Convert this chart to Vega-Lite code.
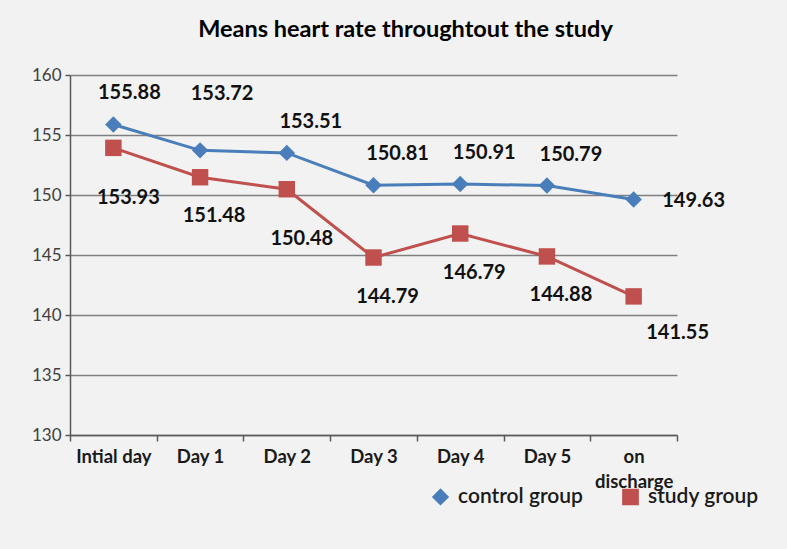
{
  "$schema": "https://vega.github.io/schema/vega-lite/v6.json",
  "autosize": "none",
  "width": 607,
  "height": 360,
  "padding": {"left": 70, "top": 75, "right": 110, "bottom": 114},
  "background": "#f2f2f2",
  "config": {"view": {"stroke": null}, "font": "Lato"},
  "title": {"text": "Means heart rate throughtout the study", "fontSize": 23.5, "fontWeight": "bold", "color": "#000000", "anchor": "middle", "dx": 32, "offset": 25, "font": "Lato"},
  "data": {"values": [
    {"day": "Intial day", "group": "control group", "value": 155.88},
    {"day": "Day 1", "group": "control group", "value": 153.72},
    {"day": "Day 2", "group": "control group", "value": 153.51},
    {"day": "Day 3", "group": "control group", "value": 150.81},
    {"day": "Day 4", "group": "control group", "value": 150.91},
    {"day": "Day 5", "group": "control group", "value": 150.79},
    {"day": "on discharge", "group": "control group", "value": 149.63},
    {"day": "Intial day", "group": "study group", "value": 153.93},
    {"day": "Day 1", "group": "study group", "value": 151.48},
    {"day": "Day 2", "group": "study group", "value": 150.48},
    {"day": "Day 3", "group": "study group", "value": 144.79},
    {"day": "Day 4", "group": "study group", "value": 146.79},
    {"day": "Day 5", "group": "study group", "value": 144.88},
    {"day": "on discharge", "group": "study group", "value": 141.55}
  ]},
  "encoding": {
    "x": {"field": "day", "type": "nominal", "sort": ["Intial day", "Day 1", "Day 2", "Day 3", "Day 4", "Day 5", "on discharge"],
      "scale": {"type": "band", "paddingInner": 0, "paddingOuter": 0},
      "axis": {"title": null, "labelAngle": 0, "tickBand": "extent", "domainColor": "#595959", "domainWidth": 1.5, "tickColor": "#595959", "tickWidth": 1.5, "tickSize": 6, "labelFontSize": 18.5, "labelFontWeight": "bold", "labelColor": "#1a1a1a", "labelPadding": 6, "labelLineHeight": 25, "labelBaseline": "top", "grid": false,
        "labelExpr": "datum.value == 'on discharge' ? ['on', 'discharge'] : datum.label"}},
    "y": {"field": "value", "type": "quantitative", "scale": {"domain": [130, 160], "nice": false, "zero": false},
      "axis": {"title": null, "values": [130, 135, 140, 145, 150, 155, 160], "grid": true, "gridColor": "#7f7f7f", "gridWidth": 1.5, "domainColor": "#595959", "domainWidth": 1.5, "tickColor": "#595959", "tickWidth": 1.5, "tickSize": 5, "labelFontSize": 17, "labelColor": "#404040", "labelPadding": 4}}
  },
  "layer": [
    {"mark": {"type": "line", "strokeWidth": 3},
     "encoding": {"color": {"field": "group", "type": "nominal", "scale": {"domain": ["control group", "study group"], "range": ["#4a7ebb", "#c0504d"]}}}},
    {"mark": {"type": "point", "filled": true, "opacity": 1, "size": 270},
     "encoding": {
       "color": {"field": "group", "type": "nominal", "scale": {"domain": ["control group", "study group"], "range": ["#4a7ebb", "#c0504d"]},
         "legend": {"title": null, "orient": "none", "legendX": 360, "legendY": 411, "direction": "horizontal", "labelFontSize": 21, "labelFont": "Lato", "labelFontWeight": 600, "labelColor": "#1a1a1a", "symbolSize": 230, "symbolOpacity": 1, "columnPadding": 36, "labelOffset": 7}},
       "shape": {"field": "group", "type": "nominal", "scale": {"domain": ["control group", "study group"], "range": ["diamond", "square"]}}}},
    {"transform": [{"filter": "datum.group == 'control group' && (datum.day == 'Day 2' || datum.day == 'Day 3' || datum.day == 'Day 4' || datum.day == 'Day 5')"}],
     "mark": {"type": "text", "dx": 24, "dy": -31, "fontSize": 20, "fontWeight": "bold", "color": "#111111"},
     "encoding": {"text": {"field": "value", "type": "quantitative", "format": ".2f"}}},
    {"transform": [{"filter": "datum.group == 'control group' && datum.day == 'Intial day'"}],
     "mark": {"type": "text", "dx": 16, "dy": -31, "fontSize": 20, "fontWeight": "bold", "color": "#111111"},
     "encoding": {"text": {"field": "value", "type": "quantitative", "format": ".2f"}}},
    {"transform": [{"filter": "datum.group == 'control group' && datum.day == 'Day 1'"}],
     "mark": {"type": "text", "dx": 22, "dy": -56, "fontSize": 20, "fontWeight": "bold", "color": "#111111"},
     "encoding": {"text": {"field": "value", "type": "quantitative", "format": ".2f"}}},
    {"transform": [{"filter": "datum.group == 'control group' && datum.day == 'on discharge'"}],
     "mark": {"type": "text", "dx": 60, "dy": 2, "fontSize": 20, "fontWeight": "bold", "color": "#111111"},
     "encoding": {"text": {"field": "value", "type": "quantitative", "format": ".2f"}}},
    {"transform": [{"filter": "datum.group == 'study group' && (datum.day == 'Day 1' || datum.day == 'Day 3' || datum.day == 'Day 4' || datum.day == 'Day 5')"}],
     "mark": {"type": "text", "dx": 14, "dy": 39, "fontSize": 20, "fontWeight": "bold", "color": "#111111"},
     "encoding": {"text": {"field": "value", "type": "quantitative", "format": ".2f"}}},
    {"transform": [{"filter": "datum.group == 'study group' && (datum.day == 'Intial day' || datum.day == 'Day 2')"}],
     "mark": {"type": "text", "dx": 15, "dy": 50, "fontSize": 20, "fontWeight": "bold", "color": "#111111"},
     "encoding": {"text": {"field": "value", "type": "quantitative", "format": ".2f"}}},
    {"transform": [{"filter": "datum.group == 'study group' && datum.day == 'on discharge'"}],
     "mark": {"type": "text", "dx": 44, "dy": 37, "fontSize": 20, "fontWeight": "bold", "color": "#111111"},
     "encoding": {"text": {"field": "value", "type": "quantitative", "format": ".2f"}}}
  ]
}
